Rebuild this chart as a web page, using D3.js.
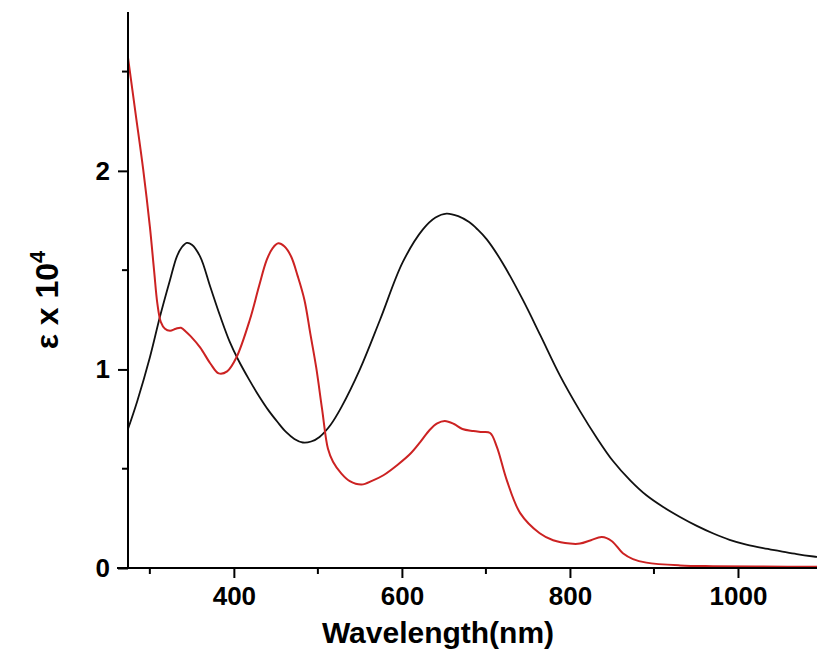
<!DOCTYPE html>
<html>
<head>
<meta charset="utf-8">
<script src="https://cdn.jsdelivr.net/npm/d3@7"></script>
<style>
  body { margin: 0; background: #fff; }
  svg { display: block; }
  text { font-family: "Liberation Sans", Arial, sans-serif; font-weight: bold; }
</style>
</head>
<body>
<div id="chart"></div>
<script>
const width = 817;
const height = 653;

// black spectrum (wavelength nm, epsilon x 10^4)
const blackWl = [274, 285, 300, 312, 324, 332, 338, 344, 350, 360, 372, 384, 395, 405, 418, 430, 441, 452, 462, 472,
  482, 492, 502, 515, 528, 550, 574, 601, 625, 640, 653, 667, 680, 690, 701, 720, 744, 765, 788, 812,
  832, 851, 872, 891, 911, 931, 951, 970, 990, 1010, 1030, 1050, 1070, 1090, 1100];
const blackEps = [0.70, 0.84, 1.06, 1.265, 1.45, 1.567, 1.615, 1.637, 1.628, 1.567, 1.415, 1.265, 1.14, 1.05, 0.95, 0.865, 0.795, 0.735, 0.685, 0.65,
  0.632, 0.637, 0.66, 0.72, 0.81, 1.0, 1.25, 1.54, 1.705, 1.765, 1.785, 1.772, 1.742, 1.705, 1.655, 1.535, 1.35, 1.17, 0.97, 0.79,
  0.655, 0.54, 0.44, 0.366, 0.307, 0.257, 0.212, 0.175, 0.142, 0.118, 0.10, 0.085, 0.07, 0.058, 0.053];

// red spectrum
const redWl = [274, 283, 292, 300, 305, 309, 313, 318, 324, 331, 337, 343, 349, 360, 372, 382, 392, 403, 419, 430,
  439, 446, 453, 460, 468, 476, 484, 491, 498, 505, 512, 518, 528, 538, 552, 565, 578, 595, 610, 622,
  633, 642, 651, 662, 672, 685, 695, 705, 713, 725, 741, 764, 780, 800, 812, 825, 838, 850, 863, 875,
  891, 931, 970, 1030, 1100];
const redEps = [2.57, 2.29, 2.01, 1.72, 1.50, 1.33, 1.24, 1.205, 1.195, 1.205, 1.21, 1.19, 1.165, 1.11, 1.03, 0.98, 0.99, 1.06, 1.25, 1.42,
  1.55, 1.61, 1.635, 1.62, 1.57, 1.47, 1.35, 1.18, 1.01, 0.80, 0.60, 0.535, 0.475, 0.437, 0.42, 0.44, 0.467, 0.52, 0.575, 0.635,
  0.695, 0.728, 0.74, 0.725, 0.70, 0.69, 0.685, 0.68, 0.61, 0.44, 0.275, 0.175, 0.14, 0.123, 0.123, 0.14, 0.156, 0.135, 0.074, 0.045,
  0.027, 0.013, 0.009, 0.007, 0.006];

const xMajor = [400, 600, 800, 1000];
const xMinor = [300, 500, 700, 900];
const yMajor = [0, 1, 2];
const yMinor = [0.5, 1.5, 2.5];

const svg = d3.select("#chart").append("svg")
  .attr("width", width)
  .attr("height", height);

const x = d3.scaleLinear().domain([274, 1100]).range([128, 822]);
const y = d3.scaleLinear().domain([0, 2.8]).range([568, 12]);

const line = d3.line()
  .x(d => x(d[0]))
  .y(d => y(d[1]))
  .curve(d3.curveCatmullRom.alpha(0.5));

svg.append("path")
  .datum(d3.zip(blackWl, blackEps))
  .attr("fill", "none")
  .attr("stroke", "#111")
  .attr("stroke-width", 1.8)
  .attr("d", line);

svg.append("path")
  .datum(d3.zip(redWl, redEps))
  .attr("fill", "none")
  .attr("stroke", "#cc2222")
  .attr("stroke-width", 2)
  .attr("d", line);

// axes
const xAxis = svg.append("g")
  .attr("transform", `translate(0,${y(0)})`)
  .call(d3.axisBottom(x).tickValues(xMajor).tickSize(10).tickPadding(9).tickFormat(d3.format("d")));

xAxis.selectAll(".minor")
  .data(xMinor)
  .join("line")
  .attr("class", "minor")
  .attr("x1", d => x(d)).attr("x2", d => x(d))
  .attr("y1", 0).attr("y2", 6)
  .attr("stroke", "#000").attr("stroke-width", 2);

const yAxis = svg.append("g")
  .attr("transform", `translate(${x(274)},0)`)
  .call(d3.axisLeft(y).tickValues(yMajor).tickSize(10).tickPadding(8).tickFormat(d3.format("d")));

yAxis.selectAll(".minor")
  .data(yMinor)
  .join("line")
  .attr("class", "minor")
  .attr("x1", 0).attr("x2", -6)
  .attr("y1", d => y(d)).attr("y2", d => y(d))
  .attr("stroke", "#000").attr("stroke-width", 2);

svg.selectAll(".domain").attr("stroke", "#000").attr("stroke-width", 2)
  .attr("d", function() {
    return this.parentNode === xAxis.node() ? `M117,0H${width}` : "M0,12V568.5";
  });
svg.selectAll(".tick line").attr("stroke-width", 2);
svg.selectAll(".tick text")
  .attr("font-size", 26)
  .attr("font-family", "'Liberation Sans', Arial, sans-serif")
  .attr("font-weight", "bold")
  .attr("fill", "#000");

// axis titles
svg.append("text")
  .attr("x", 438)
  .attr("y", 643)
  .attr("text-anchor", "middle")
  .attr("font-size", 30)
  .text("Wavelength(nm)");

const yTitle = svg.append("text")
  .attr("transform", "translate(58,300) rotate(-90)")
  .attr("text-anchor", "middle")
  .attr("font-size", 32);
yTitle.append("tspan").text("\u03b5 x 10");
yTitle.append("tspan").attr("font-size", 22).attr("dy", -13).text("4");
</script>
</body>
</html>
